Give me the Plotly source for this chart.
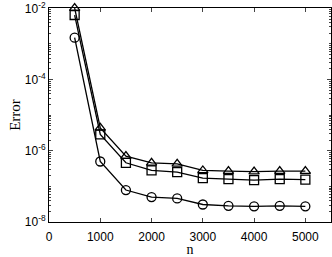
import plotly.graph_objects as go

n = [500, 1000, 1500, 2000, 2500, 3000, 3500, 4000, 4500, 5000]
err_circle = [1.5e-3, 5.0e-7, 7.9e-8, 5.0e-8, 4.6e-8, 3.1e-8, 2.85e-8, 2.75e-8, 2.85e-8, 2.75e-8]
err_square = [6.5e-3, 2.9e-6, 4.6e-7, 2.8e-7, 2.5e-7, 1.7e-7, 1.6e-7, 1.5e-7, 1.6e-7, 1.55e-7]
err_triangle = [1.02e-2, 4.4e-6, 7.1e-7, 4.6e-7, 4.3e-7, 2.8e-7, 2.7e-7, 2.6e-7, 2.7e-7, 2.7e-7]

ytick_vals = [1e-8, 1e-6, 1e-4, 1e-2]
ytick_text = ["10<sup>-8</sup>", "10<sup>-6</sup>", "10<sup>-4</sup>", "10<sup>-2</sup>"]
xtick_vals = [0, 1000, 2000, 3000, 4000, 5000]

minor_vals = [k * 10.0 ** e for e in range(-8, -2) for k in range(1, 10)]

fig = go.Figure()
for ys, sym in [(err_circle, "circle-open"), (err_square, "square-open"), (err_triangle, "triangle-up-open")]:
    fig.add_trace(go.Scatter(
        x=n, y=ys, mode="lines+markers",
        line=dict(color="black", width=1.3),
        marker=dict(symbol=sym, size=9, color="black", line=dict(width=1.3, color="black")),
        showlegend=False, cliponaxis=False,
    ))

fig.update_layout(
    width=332, height=257,
    margin=dict(l=49, r=1, t=8, b=35),
    paper_bgcolor="white", plot_bgcolor="white",
    font=dict(family="Liberation Sans, Arial", size=12, color="black"),
)
fig.update_xaxes(
    range=[0, 5500], tickvals=xtick_vals, ticks="inside", ticklen=4,
    showline=True, linecolor="black", linewidth=1, mirror="ticks",
    showgrid=False, zeroline=False, tickfont=dict(size=12), ticklabelstandoff=4,
    title=dict(text="n", font=dict(family="Liberation Serif, Times New Roman", size=14), standoff=0),
)
fig.update_yaxes(
    type="log", range=[-8.0, -1.99], tickmode="array", tickvals=ytick_vals, ticktext=ytick_text,
    ticks="inside", ticklen=4, ticklabeloverflow="allow",
    showline=True, linecolor="black", linewidth=1, mirror="ticks",
    showgrid=False, zeroline=False, tickfont=dict(size=12),
    minor=dict(tickmode="array", tickvals=minor_vals, ticks="inside", ticklen=2, showgrid=False),
    title=dict(text="Error", font=dict(family="Liberation Serif, Times New Roman", size=15), standoff=0),
)
fig.write_html("out.html", config={"displayModeBar": False},
               post_script="document.body.style.margin='0';document.body.style.padding='0';")
